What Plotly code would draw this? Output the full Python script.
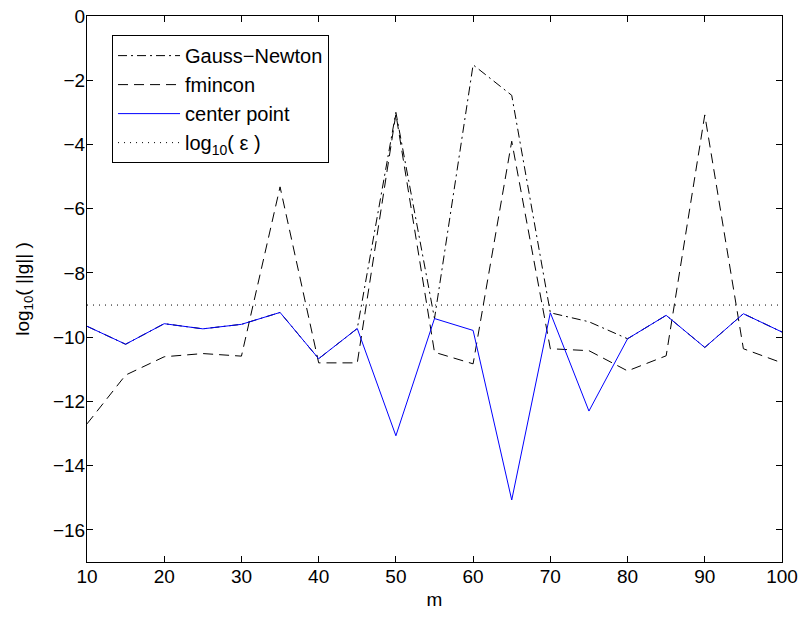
import plotly.graph_objects as go

m = [10, 15, 20, 25, 30, 35, 40, 45, 50, 55, 60, 65, 70, 75, 80, 85, 90, 95, 100]

center_point = [-9.66, -10.22, -9.58, -9.74, -9.6, -9.23, -10.67, -9.73, -13.07,
                -9.42, -9.79, -15.07, -9.24, -12.3, -10.05, -9.32, -10.32, -9.27, -9.84]

fmincon = [-12.7, -11.18, -10.61, -10.51, -10.59, -5.32, -10.8, -10.8, -3.05,
           -10.47, -10.83, -3.9, -10.36, -10.42, -11.05, -10.58, -3.08, -10.36, -10.8]

gauss_newton = [-9.66, -10.22, -9.58, -9.74, -9.6, -9.23, -10.67, -9.73, -3.0,
                -9.42, -1.52, -2.47, -9.24, -9.52, -10.05, -9.32, -10.32, -9.27, -9.84]

log_eps = -9.0

FONT = "Liberation Sans, Arial, sans-serif"

fig = go.Figure()
fig.add_trace(go.Scatter(x=m, y=gauss_newton, mode="lines", name="Gauss\u2212Newton",
                         line=dict(color="black", width=1, dash="9px,4px,2px,4px")))
fig.add_trace(go.Scatter(x=m, y=fmincon, mode="lines", name="fmincon",
                         line=dict(color="black", width=1, dash="10px,6px")))
fig.add_trace(go.Scatter(x=m, y=center_point, mode="lines", name="center point",
                         line=dict(color="rgb(0,0,255)", width=1)))
fig.add_trace(go.Scatter(x=[m[0], m[-1]], y=[log_eps, log_eps], mode="lines",
                         name="log<sub>10</sub>( \u03b5 )",
                         line=dict(color="black", width=1, dash="1px,5px")))

axis_common = dict(showline=True, linecolor="black", linewidth=1, mirror="ticks",
                   ticks="inside", ticklen=6, tickcolor="black", showgrid=False,
                   zeroline=False, automargin=False,
                   tickfont=dict(family=FONT, size=19, color="black"))

fig.update_layout(
    width=800, height=617,
    margin=dict(l=87, r=18, t=16, b=55),
    paper_bgcolor="white", plot_bgcolor="white",
    font=dict(family=FONT, size=19, color="black"),
    xaxis=dict(range=[10, 100], tickvals=list(range(10, 101, 10)),
               title=dict(text="m", font=dict(family=FONT, size=19), standoff=6),
               ticklabelstandoff=-3,
               **axis_common),
    yaxis=dict(range=[-17, 0], tickvals=list(range(-16, 1, 2)),
               ticktext=[("\u2212" + str(-v)) if v < 0 else str(v) for v in range(-16, 1, 2)],
               title=dict(text="log<sub>10</sub>( ||g|| )", font=dict(family=FONT, size=19), standoff=18),
               ticklabelstandoff=-3,
               **axis_common),
    legend=dict(x=0.036, y=0.965, xanchor="left", yanchor="top",
                bordercolor="black", borderwidth=1, bgcolor="white",
                font=dict(family=FONT, size=20), itemwidth=62,
                tracegroupgap=0),
    showlegend=True,
)

fig.write_html("out.html")
